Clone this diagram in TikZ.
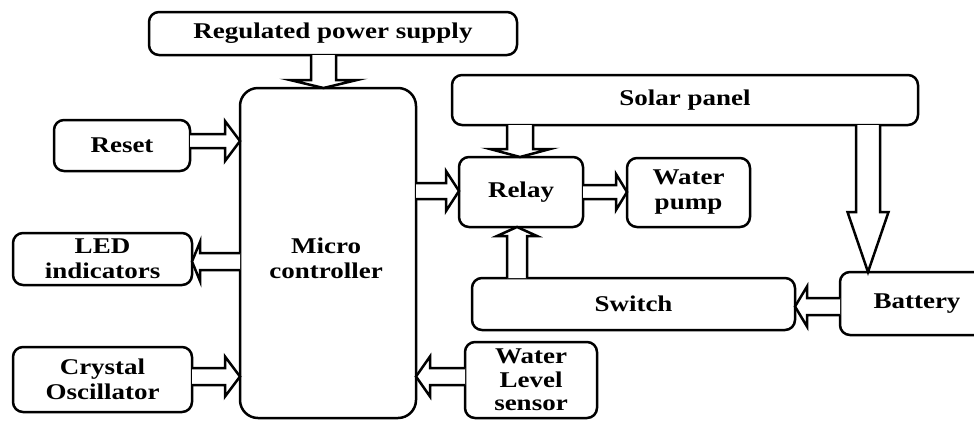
\documentclass[tikz,border=0pt]{standalone}
\usepackage{fontspec}
\setmainfont{Liberation Serif}[FakeStretch=1.2]
\usetikzlibrary{calc}
\tikzset{
  box/.style={draw, line width=2.5pt, rounded corners=10pt, inner sep=0pt, outer sep=0pt,
    align=center, font=\bfseries\fontsize{22.5}{25}\selectfont},
  conn/.style={draw, line width=2.5pt, line join=miter, fill=white}
}
% #1 start, #2 tip, #3 shaft half width, #4 head half width, #5 head length
\newcommand\harrow[5]{%
  \coordinate (hb) at ($(#2)!#5!(#1)$);
  \draw[conn] ($(#1)!#3!90:(#2)$) -- ($(hb)!#3!-90:(#1)$) -- ($(hb)!#4!-90:(#1)$) -- (#2)
    -- ($(hb)!#4!90:(#1)$) -- ($(hb)!#3!90:(#1)$) -- ($(#1)!#3!-90:(#2)$);
}
\begin{document}
\begin{tikzpicture}[x=1pt,y=-1pt]
\useasboundingbox (0,0) rectangle (974,421);
\clip (0,0) rectangle (974,421);
\fill[white] (0,0) rectangle (974,421);

\node[box, minimum width=368pt, minimum height=43pt] (reg) at (333,33.5) {Regulated power supply};
\node[box, minimum width=176pt, minimum height=330pt, rounded corners=18pt] (micro) at (328,253) {};
\node[font=\bfseries\fontsize{22.5}{25}\selectfont, align=center] (microtxt) at (326,258) {Micro\\controller};
\node[box, minimum width=136pt, minimum height=51pt] (reset) at (122,145.5) {Reset};
\node[box, minimum width=179pt, minimum height=52pt] (led) at (102.5,259) {LED\\indicators};
\node[box, minimum width=179pt, minimum height=65pt] (crystal) at (102.5,379.5) {Crystal\\Oscillator};
\node[box, minimum width=466pt, minimum height=50pt] (solar) at (685,100) {Solar panel};
\node[box, minimum width=124pt, minimum height=70pt] (relay) at (521,192) {Relay};
\node[box, minimum width=123pt, minimum height=69pt] (pump) at (688.5,192.5) {Water\\pump};
\node[box, minimum width=323pt, minimum height=52pt] (switch) at (633.5,304) {Switch};
\node[box, minimum width=154pt, minimum height=63pt] (battery) at (917,303.5) {Battery};
\node[box, minimum width=132pt, minimum height=76pt, font=\bfseries\fontsize{22.5}{23.5}\selectfont] (wls) at (531,380) {Water\\Level\\sensor};

% connectors
\coordinate (a1s) at ($(reg.south)+(-9.5,0)$);
\coordinate (a1t) at (micro.north -| a1s);
\harrow{a1s}{a1t}{12.5pt}{33.5pt}{8pt}

\coordinate (a2s) at ($(reset.east)+(0,-4.5)$);
\coordinate (a2t) at (micro.west |- a2s);
\harrow{a2s}{a2t}{7pt}{20pt}{15pt}

\coordinate (a3t) at ($(relay.west)+(0,-1)$);
\coordinate (a3s) at (micro.east |- a3t);
\harrow{a3s}{a3t}{8pt}{20pt}{13pt}

\coordinate (a4t) at ($(relay.north)+(-1,0)$);
\coordinate (a4s) at (solar.south -| a4t);
\harrow{a4s}{a4t}{13pt}{30pt}{8pt}

\coordinate (a5s) at (relay.east);
\coordinate (a5t) at (pump.west |- a5s);
\harrow{a5s}{a5t}{7pt}{18pt}{11pt}

\coordinate (a6t) at ($(battery.north)+(-49,0)$);
\coordinate (a6s) at (solar.south -| a6t);
\harrow{a6s}{a6t}{12pt}{20.5pt}{60pt}

\coordinate (a7s) at ($(switch.north)+(-116.5,0)$);
\coordinate (a7t) at (relay.south -| a7s);
\harrow{a7s}{a7t}{10pt}{20pt}{9pt}

\coordinate (a8s) at ($(battery.west)+(0,3)$);
\coordinate (a8t) at (switch.east |- a8s);
\harrow{a8s}{a8t}{8.5pt}{20pt}{12pt}

\coordinate (a9t) at ($(led.east)+(0,2.5)$);
\coordinate (a9s) at (micro.west |- a9t);
\harrow{a9s}{a9t}{8.5pt}{19.5pt}{8pt}

\coordinate (a10s) at ($(crystal.east)+(0,-3)$);
\coordinate (a10t) at (micro.west |- a10s);
\harrow{a10s}{a10t}{8.5pt}{20pt}{15pt}

\coordinate (a11s) at ($(wls.west)+(0,-3.5)$);
\coordinate (a11t) at (micro.east |- a11s);
\harrow{a11s}{a11t}{8.5pt}{20pt}{14pt}
\end{tikzpicture}
\end{document}
